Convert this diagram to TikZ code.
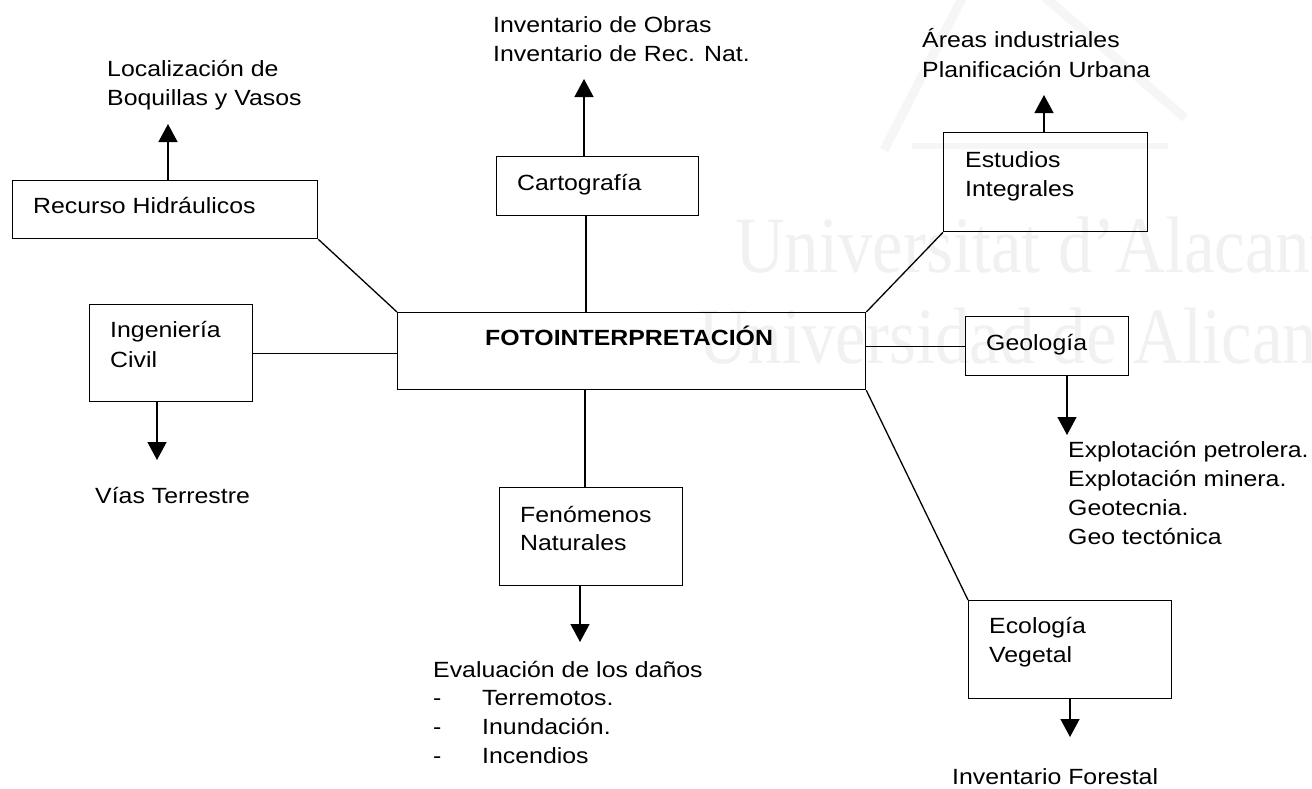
\documentclass[tikz,border=0pt]{standalone}
\usepackage{fontspec}
\setmainfont{Liberation Sans}[FakeStretch=1.13]
\newfontfamily\wmfont{Liberation Serif}[FakeStretch=0.86]
\usetikzlibrary{arrows.meta}

\definecolor{wmgray}{gray}{0.945}
\definecolor{logogray}{gray}{0.965}

\tikzset{
  box/.style={draw, line width=1.3pt, rectangle, inner sep=0pt, anchor=north west},
  txt/.style={anchor=base west, inner sep=0pt, font=\fontsize{22}{29}\selectfont},
  wm/.style={anchor=base west, inner sep=0pt, text=wmgray, font=\wmfont\fontsize{80}{90}\selectfont},
  link/.style={line width=1.3pt},
  arr/.style={line width=1.3pt, -{Triangle[width=19pt,length=18pt]}}
}

\begin{document}
\begin{tikzpicture}[x=1pt, y=-1pt]
  % page frame
  \useasboundingbox (0,0) rectangle (1312,788);
  \clip (0,0) rectangle (1312,788);
  \fill[white] (0,0) rectangle (1312,788);

  % faint background emblem and lettering
  \draw[logogray, line width=9pt, line join=round] (884,150) -- (988,-52) -- (1185,118);
  \draw[logogray, line width=6pt] (912,146) -- (1168,146);
  \node[wm] (wmA) at (735,272) {Universitat d’Alacant};
  \node[wm] (wmB) at (698,363) {Universidad de Alicante};

  % boxes
  \node[box, minimum width=305pt, minimum height=58pt] (rh)  at (12,180)  {};
  \node[box, minimum width=163pt, minimum height=97pt] (ing) at (89,304)  {};
  \node[box, minimum width=468pt, minimum height=77pt] (main) at (397,312) {};
  \node[box, minimum width=202pt, minimum height=59pt] (car) at (496,156) {};
  \node[box, minimum width=204pt, minimum height=99pt] (est) at (943,132) {};
  \node[box, minimum width=163pt, minimum height=59pt] (geo) at (965,316) {};
  \node[box, minimum width=203pt, minimum height=98pt] (eco) at (968,600) {};
  \node[box, minimum width=183pt, minimum height=98pt] (fen) at (499,487) {};

  % box labels
  \node[txt] (rhT)   at (33,213)  {Recurso Hidráulicos};
  \node[txt] (ingT1) at (110,337) {Ingeniería};
  \node[txt] (ingT2) at (110,367) {Civil};
  \node[txt, font=\fontsize{22}{29}\selectfont\bfseries] (mainT) at (485,345) {FOTOINTERPRETACIÓN};
  \node[txt] (carT)  at (517,190) {Cartografía};
  \node[txt] (estT1) at (965,167) {Estudios};
  \node[txt] (estT2) at (965,196) {Integrales};
  \node[txt] (geoT)  at (986,350) {Geología};
  \node[txt] (ecoT1) at (989,633) {Ecología};
  \node[txt] (ecoT2) at (989,662) {Vegetal};
  \node[txt] (fenT1) at (520,522) {Fenómenos};
  \node[txt] (fenT2) at (520,550) {Naturales};

  % outcome texts
  \node[txt] (loc1) at (107,76)  {Localización de};
  \node[txt] (loc2) at (107,105) {Boquillas y Vasos};
  \node[txt] (inv1) at (493,32)  {Inventario de Obras};
  \node[txt] (inv2) at (493,61)  {Inventario de Rec. Nat.};
  \node[txt] (are1) at (922,47)  {Áreas industriales};
  \node[txt] (are2) at (922,77)  {Planificación Urbana};
  \node[txt] (vias) at (95,503)  {Vías Terrestre};
  \node[txt] (exp1) at (1068,457) {Explotación petrolera.};
  \node[txt] (exp2) at (1068,486) {Explotación minera.};
  \node[txt] (exp3) at (1068,515) {Geotecnia.};
  \node[txt] (exp4) at (1068,544) {Geo tectónica};
  \node[txt] (eva0) at (433,677) {Evaluación de los daños};
  \node[txt] (evd1) at (433,705) {-};
  \node[txt] (eva1) at (482,705) {Terremotos.};
  \node[txt] (evd2) at (433,734) {-};
  \node[txt] (eva2) at (482,734) {Inundación.};
  \node[txt] (evd3) at (433,763) {-};
  \node[txt] (eva3) at (482,763) {Incendios};
  \node[txt] (for)  at (952,784) {Inventario Forestal};

  % arrow tips
  \coordinate (rhTip)  at (168,124);
  \coordinate (carTip) at (584,79);
  \coordinate (estTip) at (1044,95);
  \coordinate (ingTip) at (157,460);
  \coordinate (fenTip) at (580,642);
  \coordinate (geoTip) at (1067,435);
  \coordinate (ecoTip) at (1070,737);

  \draw[arr] (rhTip  |- rh.north)  -- (rhTip);
  \draw[arr] (carTip |- car.north) -- (carTip);
  \draw[arr] (estTip |- est.north) -- (estTip);
  \draw[arr] (ingTip |- ing.south) -- (ingTip);
  \draw[arr] (fenTip |- fen.south) -- (fenTip);
  \draw[arr] (geoTip |- geo.south) -- (geoTip);
  \draw[arr] (ecoTip |- eco.south) -- (ecoTip);

  % links to the central box
  \coordinate (carX) at (586,0);
  \coordinate (fenX) at (585,0);
  \draw[link] (rh.south east) -- (main.north west);
  \draw[link] (carX |- car.south) -- (carX |- main.north);
  \draw[link] (est.south west) -- (main.north east);
  \draw[link] (ing.east) -- (ing.east -| main.west);
  \draw[link] (geo.west -| main.east) -- (geo.west);
  \draw[link] (main.south east) -- (eco.north west);
  \draw[link] (fenX |- main.south) -- (fenX |- fen.north);
\end{tikzpicture}
\end{document}
